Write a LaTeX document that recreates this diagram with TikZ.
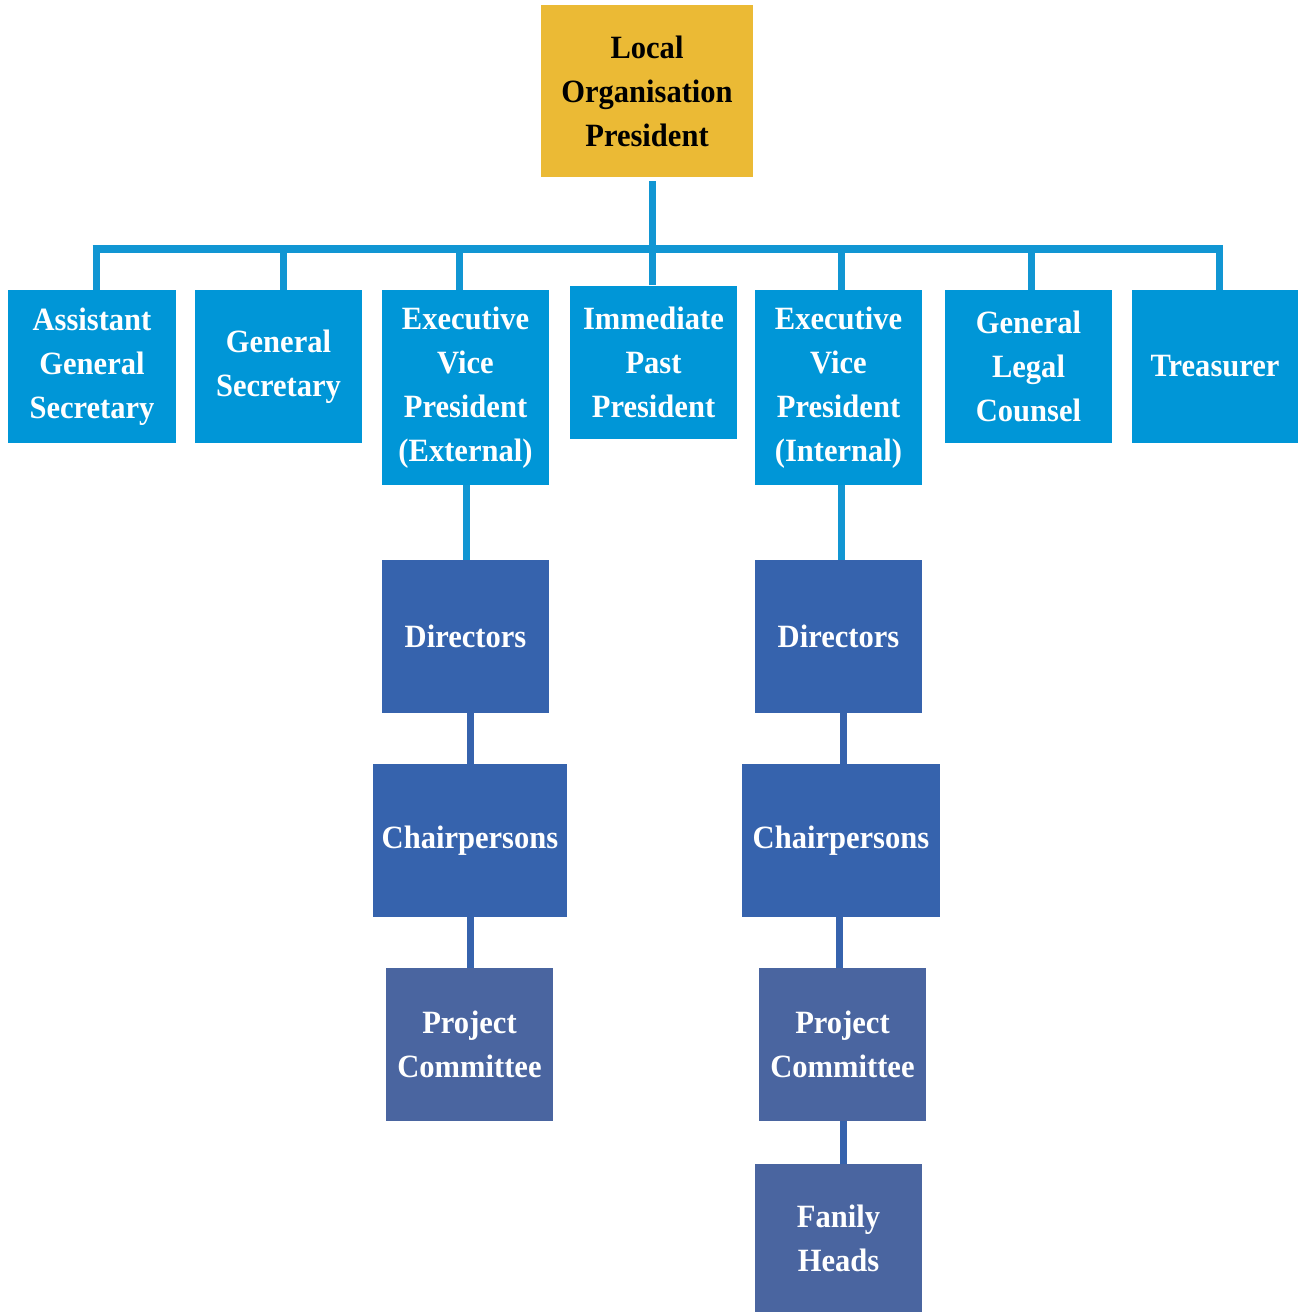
\documentclass[tikz,border=0pt]{standalone}
\usepackage{fontspec}
\setmainfont[FakeStretch=0.94]{Liberation Serif}
\definecolor{gold}{HTML}{EBBA35}
\definecolor{lblue}{HTML}{0096D7}
\definecolor{lline}{HTML}{1196D3}
\definecolor{dblue}{HTML}{3663AD}
\definecolor{pblue}{HTML}{4A65A0}
\tikzset{
  box/.style={rectangle, inner sep=0pt, align=center, text=white,
    font=\fontsize{32.5}{44}\selectfont\bfseries},
  topbox/.style={box, fill=gold, text=black, minimum width=212, minimum height=172},
  rowbox/.style={box, fill=lblue, minimum width=167, minimum height=153},
  tallbox/.style={box, fill=lblue, minimum width=167, minimum height=195},
  dirbox/.style={box, fill=dblue, minimum width=167, minimum height=153},
  chbox/.style={box, fill=dblue, minimum height=153},
  pcbox/.style={box, fill=pblue, minimum width=167, minimum height=153},
  lconn/.style={draw=lline, line width=7},
  dconn/.style={draw=dblue, line width=7}
}
\begin{document}
\begin{tikzpicture}[x=1pt,y=-1pt]
\useasboundingbox (0,0) rectangle (1298,1312);
% nodes
\node[topbox] (top) at (647,91) {Local\\Organisation\\President};
\node[rowbox, minimum width=168] (ags) at (92,366.5) {Assistant\\General\\Secretary};
\node[rowbox] (gs) at (278.5,366.5) {General\\Secretary};
\node[tallbox] (evpe) at (465.5,387.5) {Executive\\Vice\\President\\(External)};
\node[rowbox] (ipp) at (653.5,362) {Immediate\\Past\\President};
\node[tallbox] (evpi) at (838.5,387.5) {Executive\\Vice\\President\\(Internal)};
\node[rowbox] (glc) at (1028.5,366.5) {General\\Legal\\Counsel};
\node[rowbox, minimum width=166] (tr) at (1215,366.5) {Treasurer};
\node[dirbox] (dire) at (465.5,636.5) {Directors};
\node[chbox, minimum width=194] (che) at (470,840.5) {Chairpersons};
\node[pcbox] (pce) at (469.5,1044.5) {Project\\Committee};
\node[dirbox] (diri) at (838.5,636.5) {Directors};
\node[chbox, minimum width=198] (chi) at (841,840.5) {Chairpersons};
\node[pcbox] (pci) at (842.5,1044.5) {Project\\Committee};
\node[pcbox, minimum height=148] (fh) at (838.5,1238) {Fanily\\Heads};
% bus
\coordinate (bus) at (652,249);
\coordinate (busL) at (92.5,249);
\coordinate (busR) at (1222.5,249);
\draw[lconn] ([yshift=-4]top.south -| bus) -- (bus);
\draw[lconn, line width=8] (busL) -- (busR);
\draw[lconn] ([xshift=4]ags.north) -- ([xshift=4]ags.north |- bus);
\draw[lconn] ([xshift=4.5]gs.north) -- ([xshift=4.5]gs.north |- bus);
\draw[lconn] ([xshift=-6.5]evpe.north) -- ([xshift=-6.5]evpe.north |- bus);
\draw[lconn] (ipp.north -| bus) -- (bus);
\draw[lconn] ([xshift=2.5]evpi.north) -- ([xshift=2.5]evpi.north |- bus);
\draw[lconn] ([xshift=2.5]glc.north) -- ([xshift=2.5]glc.north |- bus);
\draw[lconn] ([xshift=4]tr.north) -- ([xshift=4]tr.north |- bus);
% external chain
\draw[lconn] ([xshift=1]evpe.south) -- ([xshift=1]evpe.south |- dire.north);
\draw[dconn] ([xshift=5]dire.south) -- ([xshift=5]dire.south |- che.north);
\draw[dconn] (che.south) -- (che.south |- pce.north);
% internal chain
\draw[lconn] ([xshift=2.5]evpi.south) -- ([xshift=2.5]evpi.south |- diri.north);
\draw[dconn] ([xshift=4.5]diri.south) -- ([xshift=4.5]diri.south |- chi.north);
\draw[dconn] ([xshift=-1.5]chi.south) -- ([xshift=-1.5]chi.south |- pci.north);
\draw[dconn] ([xshift=1]pci.south) -- ([xshift=1]pci.south |- fh.north);
\end{tikzpicture}
\end{document}
